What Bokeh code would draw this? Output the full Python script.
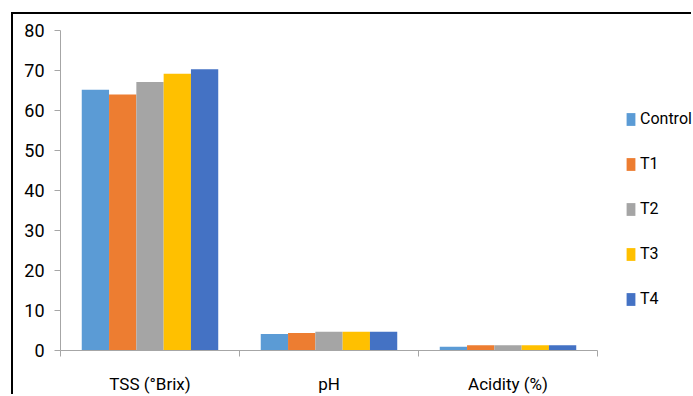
from bokeh.plotting import figure
from bokeh.models import (ColumnDataSource, Range1d, LinearAxis,
                          FixedTicker, Legend, LegendItem)
from bokeh.transform import dodge
from bokeh.embed import file_html
from bokeh.resources import INLINE

# Quality parameters per treatment
categories = ["TSS (°Brix)", "pH", "Acidity (%)"]
series = ["Control", "T1", "T2", "T3", "T4"]
control = [65.2, 4.15, 0.95]
t1 = [64.0, 4.4, 1.3]
t2 = [67.1, 4.7, 1.3]
t3 = [69.2, 4.7, 1.3]
t4 = [70.3, 4.7, 1.3]
y_ticks = [0, 10, 20, 30, 40, 50, 60, 70, 80]

colors = ["#5B9BD5", "#ED7D31", "#A5A5A5", "#FFC000", "#4472C4"]
FONT = "Roboto"
AXIS_GRAY = "#A6A6A6"

# each category occupies one unit slot; groups sit at the slot centres
n = len(categories)
slot_mid = [i + 0.5 for i in range(n)]
slot_edges = list(range(n + 1))

source = ColumnDataSource(dict(x=slot_mid, Control=control, T1=t1,
                               T2=t2, T3=t3, T4=t4))

# the frame runs to the right edge; the extra span past the last slot
# leaves room for the legend
PLOT_W, PLOT_H = 680, 382
LEFT, AXES_W = 47, 537
x_end = n * (PLOT_W - LEFT) / AXES_W

p = figure(width=PLOT_W, height=PLOT_H, x_range=Range1d(0, x_end),
           y_range=Range1d(0, 80), output_backend="svg",
           toolbar_location=None, x_axis_location=None,
           min_border_left=LEFT, min_border_top=16,
           min_border_bottom=46, min_border_right=0)
p.margin = (12, 0, 0, 11)
p.styles = {"border-top": "2px solid #000", "border-left": "2px solid #000"}
p.outline_line_color = None
p.xgrid.visible = False
p.ygrid.visible = False
p.background_fill_color = "white"
p.border_fill_color = "white"

# value axis
ya = p.yaxis[0]
ya.ticker = FixedTicker(ticks=y_ticks)
ya.minor_tick_line_color = None
ya.axis_line_color = AXIS_GRAY
ya.major_tick_line_color = AXIS_GRAY
ya.major_tick_in = 0
ya.major_tick_out = 6
ya.major_label_standoff = 10
ya.major_label_text_font = FONT
ya.major_label_text_font_size = "18px"
ya.major_label_text_color = "#000000"

# category axis: names under the group centres, ticks between the groups
cax = LinearAxis(ticker=FixedTicker(ticks=slot_mid, minor_ticks=slot_edges),
                 bounds=(0, n))
cax.major_label_overrides = {m: c for m, c in zip(slot_mid, categories)}
cax.axis_line_color = AXIS_GRAY
cax.major_tick_line_color = None
cax.major_tick_in = 0
cax.major_tick_out = 6
cax.minor_tick_line_color = AXIS_GRAY
cax.minor_tick_in = 0
cax.minor_tick_out = 6
cax.major_label_standoff = 17
cax.major_label_text_font = FONT
cax.major_label_text_font_size = "17px"
cax.major_label_text_color = "#000000"
p.add_layout(cax, "below")

bar_w = 0.1525
items = []
for i, (name, col) in enumerate(zip(series, colors)):
    r = p.vbar(x=dodge("x", (i - 2) * bar_w), top=name,
               width=bar_w, source=source, fill_color=col, line_color=None)
    items.append(LegendItem(label=name, renderers=[r]))

legend = Legend(items=items, location=(565, 42))
legend.glyph_width = 11
legend.glyph_height = 16
legend.label_standoff = 4
legend.spacing = 26
legend.padding = 0
legend.margin = 0
legend.border_line_color = None
legend.background_fill_alpha = 0
legend.label_text_font = FONT
legend.label_text_font_size = "16px"
legend.label_text_color = "#000000"
p.add_layout(legend, "center")

open("out.html", "w").write(file_html(p, INLINE))
